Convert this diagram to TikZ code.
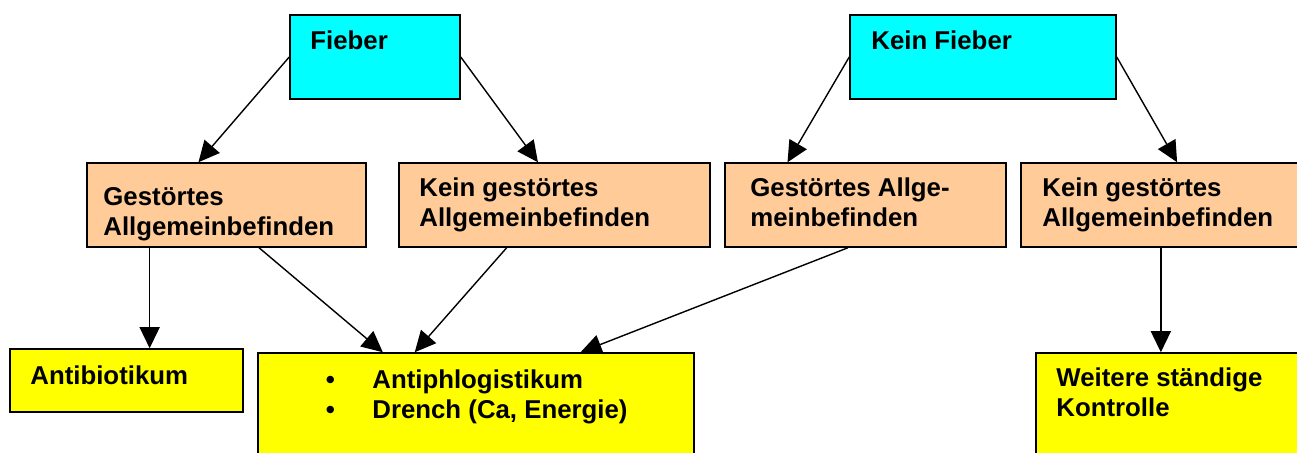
\documentclass[tikz,border=0pt]{standalone}
\usepackage{fontspec}
\setmainfont{Liberation Sans}
\usetikzlibrary{arrows.meta,fit,calc}
\definecolor{cyanbox}{HTML}{00FFFF}
\definecolor{orangebox}{HTML}{FFCC99}
\definecolor{yellowbox}{HTML}{FFFF00}
\begin{document}
\begin{tikzpicture}[x=0.5pt,y=-0.5pt,
  box/.style={draw=black, line width=0.75pt, inner sep=0pt},
  txt/.style={inner sep=0pt, anchor=base west, font=\bfseries\fontsize{12.9}{15}\selectfont},
  arr/.style={line width=0.7pt, -{Triangle[length=10.5pt,width=10pt]}}]
\useasboundingbox (0,0) rectangle (1297,453);
\clip (0,0) rectangle (1297,453);
% boxes
\node[box, fill=cyanbox, fit={(290,15) (460,99)}] (fieber) {};
\node[box, fill=cyanbox, fit={(850,15) (1116,99)}] (kfieber) {};
\node[box, fill=orangebox, fit={(87,163) (366,247)}] (b1) {};
\node[box, fill=orangebox, fit={(399,163) (710,247)}] (b2) {};
\node[box, fill=orangebox, fit={(725,163) (1006,247)}] (b3) {};
\node[box, fill=orangebox, fit={(1021,163) (1310,247)}] (b4) {};
\node[box, fill=yellowbox, fit={(10,349) (243,412)}] (anti) {};
\node[box, fill=yellowbox, fit={(258,353) (694,470)}] (aphl) {};
\node[box, fill=yellowbox, fit={(1036,353) (1310,470)}] (weit) {};
% texts
\node[txt] (tfieber) at (310,50) {Fieber};
\node[txt] (tkfieber) at (871,50) {Kein Fieber};
\node[txt] (tb1) at (103,206) {\vtop{\hbox{Gestörtes}\hbox{Allgemeinbefinden}}};
\node[txt] (tb2) at (419,197) {\vtop{\hbox{Kein gestörtes}\hbox{Allgemeinbefinden}}};
\node[txt] (tb3) at (750,197) {\vtop{\hbox{Gestörtes Allge-}\hbox{meinbefinden}}};
\node[txt] (tb4) at (1042,197) {\vtop{\hbox{Kein gestörtes}\hbox{Allgemeinbefinden}}};
\node[txt] (tanti) at (30,385) {Antibiotikum};
\node[txt] (taphl) at (330,389) {\vtop{\hbox{\hbox to 0pt{\hss•\hss}\hskip 21pt Antiphlogistikum}\hbox{\hbox to 0pt{\hss•\hss}\hskip 21pt Drench (Ca, Energie)}}};
\node[txt] (tweit) at (1056,387) {\vtop{\hbox{Weitere ständige}\hbox{Kontrolle}}};
% connectors
\draw[arr] (fieber.west) -- ($(b1.north west)!0.40!(b1.north east)$);
\draw[arr] (fieber.east) -- ($(b2.north west)!0.447!(b2.north east)$);
\draw[arr] (kfieber.west) -- ($(b3.north west)!0.224!(b3.north east)$);
\draw[arr] (kfieber.east) -- ($(b4.north west)!0.54!(b4.north east)$);
\coordinate (p1) at ($(b1.south west)!0.226!(b1.south east)$);
\draw[arr] (p1) -- (p1 |- anti.north);
\draw[arr] ($(b1.south west)!0.616!(b1.south east)$) -- ($(aphl.north west)!0.287!(aphl.north east)$);
\draw[arr] ($(b2.south west)!0.347!(b2.south east)$) -- ($(aphl.north west)!0.36!(aphl.north east)$);
\draw[arr] ($(b3.south west)!0.438!(b3.south east)$) -- ($(aphl.north west)!0.739!(aphl.north east)$);
\coordinate (p4) at ($(b4.south west)!0.484!(b4.south east)$);
\draw[arr] (p4) -- (p4 |- weit.north);
\end{tikzpicture}
\end{document}
